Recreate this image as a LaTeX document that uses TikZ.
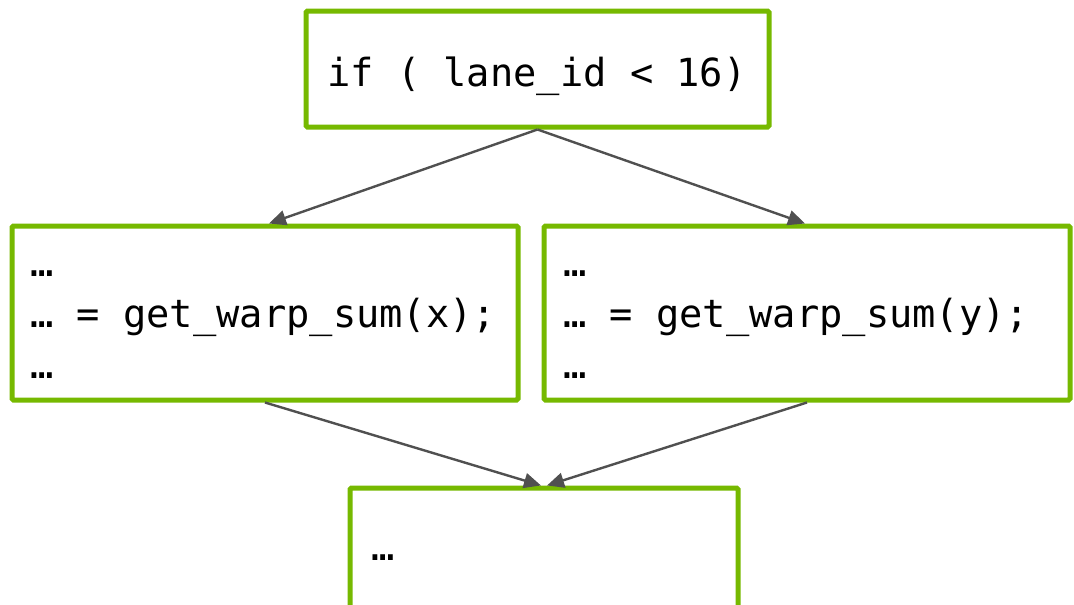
\documentclass[tikz,border=0pt]{standalone}
\usepackage{fontspec}
\setmonofont{DejaVu Sans Mono}
\usetikzlibrary{arrows.meta}
\definecolor{nvgreen}{HTML}{76B900}
\definecolor{wire}{HTML}{505050}
\tikzset{
  box/.style={draw=nvgreen, line width=5pt, rounded corners=1.5pt, fill=white, inner sep=0pt},
  code/.style={inner sep=0pt, anchor=base west, font=\fontsize{38.7}{46}\selectfont\ttfamily},
  flow/.style={draw=wire, line width=2.4pt, -{Triangle[length=17pt,width=15pt]}}
}
\begin{document}
\begin{tikzpicture}[x=1pt,y=-1pt]
\path[use as bounding box] (0,0) rectangle (1074,605);
\clip (0,0) rectangle (1074,605);

% boxes
\node[box, minimum width=463pt, minimum height=116pt] (cond) at (537.5,69) {};
\node[box, minimum width=506pt, minimum height=174pt] (left) at (265,313) {};
\node[box, minimum width=526pt, minimum height=174pt] (right) at (807,313) {};
\node[box, minimum width=388pt, minimum height=140pt] (join) at (544,558) {};

% code lines
\node[code] (condtxt) at (327,86) {if ( lane\_id < 16)};

\node[code] (l1) at (30,276) {…};
\node[code] (l2) at (30,327) {… = get\_warp\_sum(x);};
\node[code] (l3) at (30,378) {…};

\node[code] (r1) at (563,276) {…};
\node[code] (r2) at (563,327) {… = get\_warp\_sum(y);};
\node[code] (r3) at (563,378) {…};

\node[code] (j1) at (371,560) {…};

% control flow
\draw[flow] (cond.south) -- ([xshift=4pt]left.north);
\draw[flow] (cond.south) -- ([xshift=-2pt]right.north);
\draw[flow] (left.south) -- ([xshift=-3pt]join.north);
\draw[flow] (right.south) -- ([xshift=3pt]join.north);
\end{tikzpicture}
\end{document}
